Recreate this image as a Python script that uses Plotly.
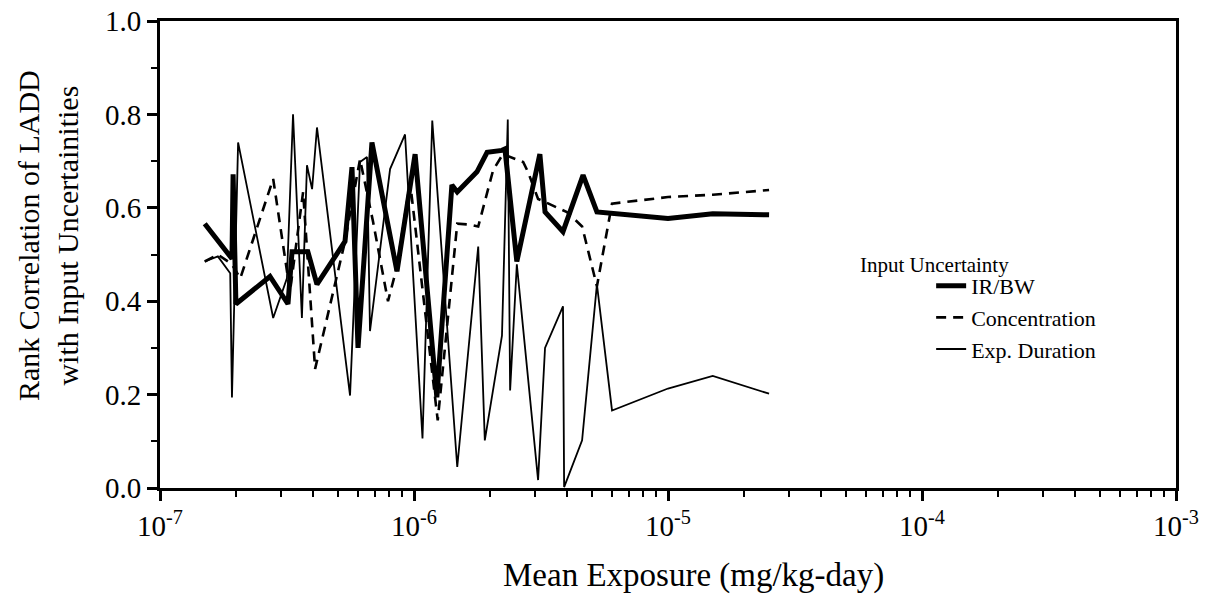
import plotly.graph_objects as go

# ---- data ----
irbw_x = [1.50e-7, 1.92e-7, 1.94e-7, 1.99e-7, 2.71e-7, 3.19e-7, 3.31e-7, 3.82e-7, 4.15e-7,
          5.35e-7, 5.70e-7, 6.02e-7, 6.83e-7, 8.57e-7, 1.01e-6, 1.08e-6, 1.23e-6, 1.41e-6,
          1.48e-6, 1.77e-6, 1.94e-6, 2.22e-6, 2.28e-6, 2.54e-6, 3.13e-6, 3.28e-6, 3.86e-6,
          4.63e-6, 5.25e-6, 1.0e-5, 1.5e-5, 2.5e-5]
irbw_y = [0.566, 0.491, 0.672, 0.394, 0.453, 0.394, 0.506, 0.506, 0.436,
          0.528, 0.687, 0.300, 0.740, 0.464, 0.715, 0.543, 0.194, 0.649,
          0.634, 0.677, 0.719, 0.723, 0.726, 0.485, 0.715, 0.591, 0.549,
          0.670, 0.591, 0.577, 0.587, 0.585]

conc_x = [1.50e-7, 1.69e-7, 1.92e-7, 2.07e-7, 2.79e-7, 3.25e-7, 3.66e-7, 4.08e-7, 5.35e-7,
          6.13e-7, 6.90e-7, 7.90e-7, 8.57e-7, 9.65e-7, 1.24e-6, 1.48e-6, 1.66e-6, 1.79e-6,
          2.05e-6, 2.24e-6, 2.69e-6, 2.81e-6, 3.08e-6, 4.00e-6, 4.59e-6, 5.25e-6, 6.02e-6,
          1.0e-5, 1.5e-5, 2.5e-5]
conc_y = [0.485, 0.500, 0.479, 0.449, 0.662, 0.421, 0.634, 0.255, 0.528,
          0.704, 0.570, 0.400, 0.474, 0.655, 0.145, 0.566, 0.564, 0.560,
          0.681, 0.715, 0.698, 0.677, 0.619, 0.591, 0.560, 0.432, 0.609,
          0.623, 0.628, 0.638]

dur_x = [1.50e-7, 1.69e-7, 1.89e-7, 1.92e-7, 2.03e-7, 2.79e-7, 3.16e-7, 3.34e-7, 3.62e-7,
         3.79e-7, 3.97e-7, 4.15e-7, 5.60e-7, 6.13e-7, 6.53e-7, 6.71e-7, 8.05e-7, 9.22e-7,
         1.08e-6, 1.18e-6, 1.48e-6, 1.79e-6, 1.90e-6, 2.22e-6, 2.34e-6, 2.39e-6, 2.54e-6,
         3.08e-6, 3.28e-6, 3.86e-6, 3.90e-6, 4.59e-6, 5.25e-6, 6.02e-6, 1.0e-5, 1.5e-5, 2.5e-5]
dur_y = [0.485, 0.496, 0.460, 0.194, 0.740, 0.364, 0.449, 0.800, 0.364,
         0.691, 0.640, 0.772, 0.198, 0.698, 0.709, 0.336, 0.683, 0.757,
         0.106, 0.787, 0.045, 0.517, 0.102, 0.326, 0.789, 0.209, 0.479,
         0.017, 0.300, 0.389, 0.002, 0.102, 0.436, 0.166, 0.213, 0.240, 0.202]

series_names = ["IR/BW", "Concentration", "Exp. Duration"]
x_tickvals = [1e-7, 1e-6, 1e-5, 1e-4, 1e-3]
x_ticktext = ["10<sup>-7</sup>", "10<sup>-6</sup>", "10<sup>-5</sup>", "10<sup>-4</sup>", "10<sup>-3</sup>"]
y_tickvals = [0.0, 0.2, 0.4, 0.6, 0.8, 1.0]
y_ticktext = ["0.0", "0.2", "0.4", "0.6", "0.8", "1.0"]

FONT = "Liberation Serif, Times New Roman, serif"

fig = go.Figure()
fig.add_trace(go.Scatter(x=irbw_x, y=irbw_y, mode="lines", name=series_names[0],
                         line=dict(color="black", width=5)))
fig.add_trace(go.Scatter(x=conc_x, y=conc_y, mode="lines", name=series_names[1],
                         line=dict(color="black", width=2.6, dash="10px,7px")))
fig.add_trace(go.Scatter(x=dur_x, y=dur_y, mode="lines", name=series_names[2],
                         line=dict(color="black", width=1.8)))

# page body has an ~8px margin, so the figure is made 8px smaller and margins shifted
PLOT_H = 598 - 13 - 118
fig.update_layout(
    width=1207, height=598,
    margin=dict(l=152, r=39, t=13, b=118, autoexpand=False),
    paper_bgcolor="white", plot_bgcolor="white",
    font=dict(family=FONT, color="black", size=24),
    showlegend=True,
    legend=dict(x=0.759, y=(488 - 265) / PLOT_H, xanchor="left", yanchor="top",
                font=dict(family=FONT, size=22, color="black"),
                bgcolor="rgba(0,0,0,0)", tracegroupgap=0, itemwidth=30),
    annotations=[
        dict(text="Input Uncertainty", xref="paper", yref="paper",
             x=(858 - 160) / 1016, y=(488 - 265) / PLOT_H, xanchor="left", yanchor="middle",
             yshift=0, showarrow=False, font=dict(family=FONT, size=21, color="black")),
        dict(text="Rank Correlation of LADD<br>with Input Uncertainities",
             xref="paper", yref="paper", x=0, y=(488 - 236) / PLOT_H,
             xshift=-112, xanchor="center", yanchor="middle", textangle=-90,
             showarrow=False, font=dict(family=FONT, size=30, color="black")),
        dict(text="Mean Exposure (mg/kg-day)", xref="paper", yref="paper",
             x=(693 - 160) / 1016, y=(488 - 575) / PLOT_H, xanchor="center", yanchor="middle",
             showarrow=False, font=dict(family=FONT, size=33, color="black")),
    ],
)

fig.update_xaxes(
    type="log", range=[-7, -3], automargin=False, ticklabeloverflow="allow",
    tickvals=x_tickvals, ticktext=x_ticktext,
    ticks="outside", ticklen=10, tickwidth=2.5, tickcolor="black",
    tickfont=dict(family=FONT, size=29, color="black"),
    minor=dict(ticks="outside", ticklen=6, tickwidth=2, tickcolor="black", dtick="D1", showgrid=False),
    showline=True, linewidth=3, linecolor="black", mirror=True,
    showgrid=False, zeroline=False,
)
fig.update_yaxes(
    range=[0, 1.0], automargin=False, ticklabeloverflow="allow",
    tickvals=y_tickvals, ticktext=y_ticktext,
    ticks="outside", ticklen=10, tickwidth=2.5, tickcolor="black",
    tickfont=dict(family=FONT, size=29, color="black"),
    minor=dict(ticks="outside", ticklen=6, tickwidth=2, tickcolor="black", dtick=0.1, showgrid=False),
    showline=True, linewidth=3, linecolor="black", mirror=True,
    showgrid=False, zeroline=False,
)

fig.write_html("out.html")
